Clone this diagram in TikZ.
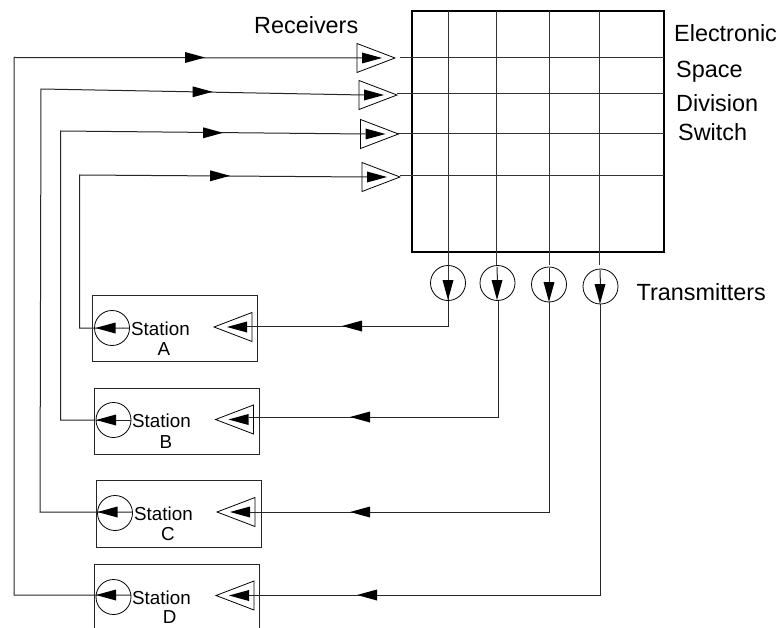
\documentclass[tikz,border=0pt]{standalone}
\usepackage{fontspec}
\setmainfont{Liberation Sans}
\begin{document}
\begin{tikzpicture}[x=1pt,y=-1pt,line join=miter,
  wire/.style={draw=black!85,line width=1pt},
  grid/.style={draw=black!80,line width=1pt},
  outline/.style={draw=black,line width=0.8pt},
  stationbox/.style={draw=black!85,line width=1pt,minimum width=165pt,inner sep=0pt,fill=none},
  circ/.style={circle,draw=black,line width=0.8pt,minimum size=35pt,inner sep=0pt},
  lbl/.style={font=\fontsize{23.4}{23.4}\selectfont,inner sep=0pt,anchor=base west},
  stn/.style={font=\fontsize{18.8}{18.8}\selectfont,inner sep=0pt},
  head/.pic={\fill[black] (-10,-5.5) -- (10,0) -- (-10,5.5) -- cycle;},
  amp/.pic={\draw[outline,fill=white] (-19,-14.5) -- (19,0) -- (-19,14.5) -- cycle;
            \fill[black] (-14,-5.5) -- (6,0) -- (-14,5.5) -- cycle;
            \coordinate (-in) at (-14,0);}
  ]
\path[use as bounding box,clip] (0,0) rectangle (783,628);
\fill[white] (0,0) rectangle (783,628);

% Switch matrix
\node[draw=black,line width=1.5pt,minimum width=252pt,minimum height=241pt,inner sep=0pt] (sw) at (538,131.5) {};
\coordinate (h1) at (400,57.5);  \coordinate (h1e) at (664,57.5);
\coordinate (h2) at (397,94);    \coordinate (h2e) at (664,94);
\coordinate (h3) at (398,134);   \coordinate (h3e) at (664,134);
\coordinate (h4) at (400,175.5); \coordinate (h4e) at (664,175.5);
\foreach \n in {1,2,3,4} \draw[grid] (h\n) -- (h\n e);

% Transmitters
\node[circ] (t1) at (448,283) {};
\node[circ] (t2) at (497.5,283) {};
\node[circ] (t3) at (549,284.5) {};
\node[circ] (t4) at (600.5,286.5) {};
\coordinate (v1) at (448,11); \coordinate (v2) at (496,11); \coordinate (v3) at (549,11); \coordinate (v4) at (599,11);
\coordinate (ve1) at (448,300); \coordinate (ve2) at (496,265); \coordinate (ve3) at (549,264.5); \coordinate (ve4) at (599,264.5);
\foreach \n in {1,2,3,4} \draw[grid] (v\n) -- (ve\n);
\coordinate (ti2) at (497,267); \coordinate (ti3) at (549,268); \coordinate (ti4) at (600,270);
\draw[wire] (ti2) -- (t2.center);
\draw[wire] (ti3) -- (t3.center);
\draw[wire] (ti4) -- (t4.center);
\pic[rotate=-90] at (448,290) {head};
\pic[rotate=-90] at (497,290) {head};
\pic[rotate=-90] at (549,292) {head};
\pic[rotate=-90] at (600,294) {head};

% Receivers
\pic (r1) at (376,58) {amp};
\pic (r2) at (378,95) {amp};
\pic (r3) at (379.5,134) {amp};
\pic (r4) at (381,177) {amp};

% Station boxes
\node[stationbox,minimum height=66pt] (sa) at (175,328) {};
\node[stationbox,minimum height=66pt] (sb) at (177,421) {};
\node[stationbox,minimum height=67pt] (sc) at (178.5,513.5) {};
\node[stationbox,minimum height=90pt] (sd) at (177,609.5) {};

% Station receivers (circles)
\node[circ] (ca) at (112,328) {};
\node[circ] (cb) at (113.5,420) {};
\node[circ] (cc) at (115,513) {};
\node[circ] (cd) at (113.5,597) {};

% Station transmitters
\pic (ta) [rotate=180] at (233,327) {amp};
\pic (tb) [rotate=180] at (234.5,419.5) {amp};
\pic (tc) [rotate=180] at (236,512) {amp};
\pic (td) [rotate=180] at (235,595.5) {amp};

% Wires: switch outputs to station transmitters
\coordinate (a1) at (448,326); \coordinate (a2) at (498,417); \coordinate (a3) at (549,512); \coordinate (a4) at (600.5,595);
\draw[wire] (t1.south) -- (a1) -- (ta-in |- a1);
\draw[wire] (t2.south -| a2) -- (a2) -- (tb-in |- a2);
\draw[wire] (t3.south) -- (a3) -- (tc-in |- a3);
\draw[wire] (t4.south) -- (a4) -- (td-in |- a4);

% Wires: station receivers to switch inputs
\coordinate (w1a) at (14,595);  \coordinate (w1b) at (14,57.5);
\coordinate (w2a) at (40,512);  \coordinate (w2b) at (41,89);
\coordinate (w3a) at (60.5,420); \coordinate (w3b) at (60.5,131);
\coordinate (w4a) at (79.5,328); \coordinate (w4b) at (79.5,175);
\draw[wire] (cd.east |- w1a) -- (w1a) -- (w1b) -- (r1-in);
\draw[wire] (cc.east |- w2a) -- (w2a) -- (w2b) -- (r2-in);
\draw[wire] (sb.west |- w3a) -- (w3a) -- (w3b) -- (r3-in);
\draw[wire] (cb.east) -- (cb.west);
\draw[wire] (ca.east) -- (w4a) -- (w4b) -- (r4-in);

% Heads inside station circles
\pic[rotate=180] at (105.5,328) {head};
\pic[rotate=180] at (106,420) {head};
\pic[rotate=180] at (107.5,512) {head};
\pic[rotate=180] at (106,595) {head};

% Mid-wire heads
\pic at (195,57.5) {head};
\pic at (202.5,91.8) {head};
\pic at (213,132.8) {head};
\pic at (220,175.8) {head};
\pic[rotate=180] at (352,326) {head};
\pic[rotate=180] at (360,417) {head};
\pic[rotate=180] at (360,512) {head};
\pic[rotate=180] at (367,595) {head};

% Labels
\node[stn,anchor=base west] (la) at (131,335) {Station};
\node[stn,anchor=base] (lax) at (164,355) {A};
\node[stn,anchor=base west] (lb) at (132,427.3) {Station};
\node[stn,anchor=base] (lbx) at (166,448) {B};
\node[stn,anchor=base west] (lc) at (134,520) {Station};
\node[stn,anchor=base] (lcx) at (168,540) {C};
\node[stn,anchor=base west] (ld) at (132,604) {Station};
\node[stn,anchor=base] (ldx) at (169.7,623) {D};
\node[lbl] (lr) at (254,34) {Receivers};
\node[lbl] (l1) at (674,41.7) {Electronic};
\node[lbl] (l2) at (676,78) {Space};
\node[lbl] (l3) at (676,112) {Division};
\node[lbl] (l4) at (678,141) {Switch};
\node[lbl] (lt) at (636.5,300) {Transmitters};
\end{tikzpicture}
\end{document}
